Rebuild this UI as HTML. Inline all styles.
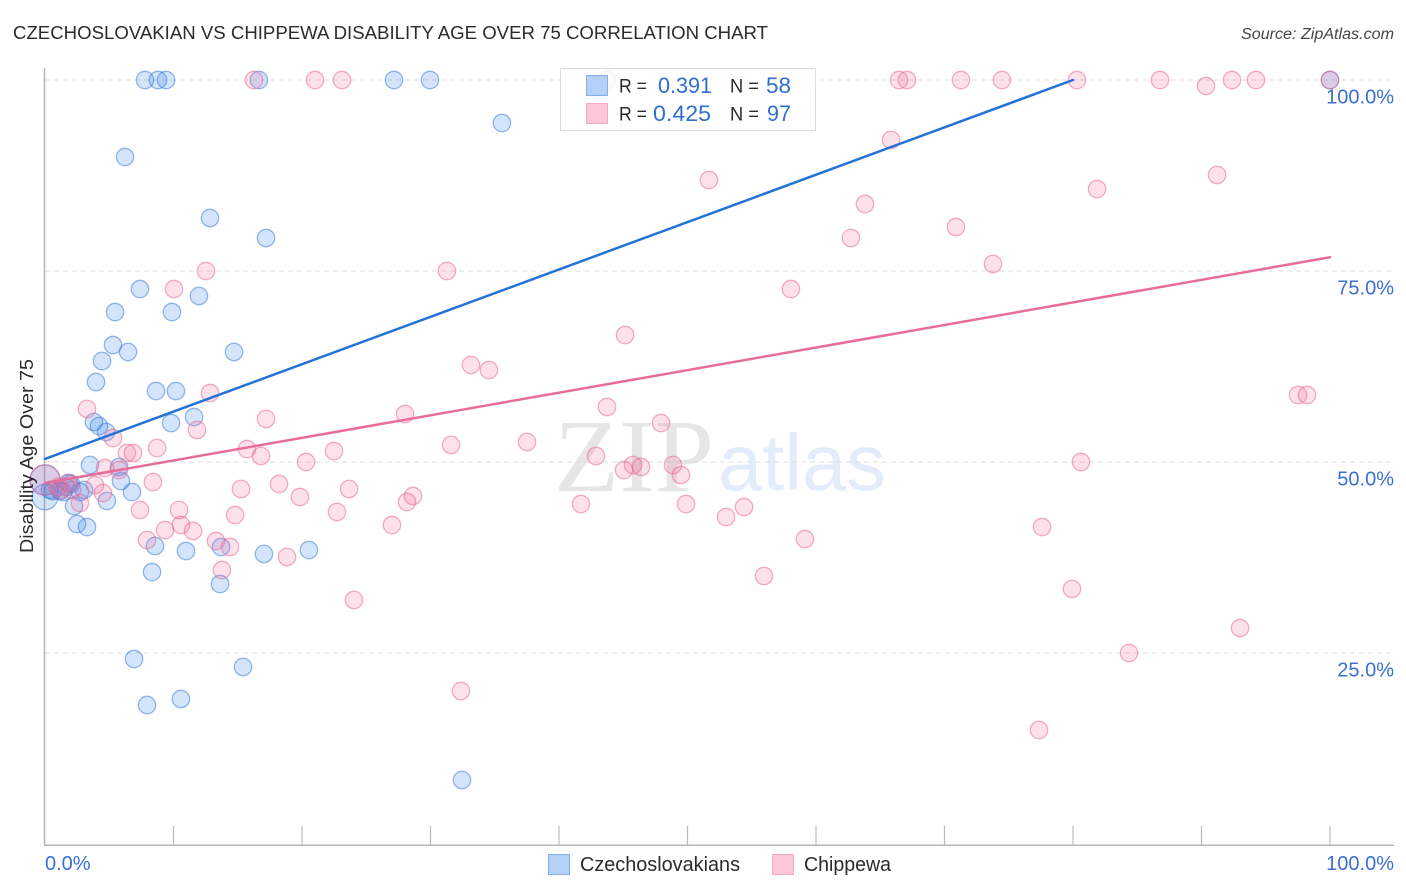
<!DOCTYPE html>
<html lang="en">
<head>
<meta charset="utf-8">
<title>Czechoslovakian vs Chippewa Disability Age Over 75 Correlation Chart</title>
<style>
html,body{margin:0;padding:0;background:#fff}
#chart{display:block;width:1406px;height:892px;font-family:"Liberation Sans",sans-serif}
</style>
</head>
<body>
<svg id="chart" xmlns="http://www.w3.org/2000/svg" width="1406" height="892" viewBox="0 0 1406 892">
  <text x="13" y="39" font-size="18.5" fill="#2b2b2b" textLength="755" lengthAdjust="spacingAndGlyphs">CZECHOSLOVAKIAN VS CHIPPEWA DISABILITY AGE OVER 75 CORRELATION CHART</text>
  <text x="1241" y="39" font-size="15.5" font-style="italic" fill="#444" textLength="153" lengthAdjust="spacingAndGlyphs">Source: ZipAtlas.com</text>
  <g>
    <text x="554" y="491" font-family="'Liberation Serif',serif" font-size="104" fill="#e6e6e6" textLength="160" lengthAdjust="spacingAndGlyphs">ZIP</text>
    <text x="718" y="490" font-size="80" fill="#e3ecfa" textLength="168" lengthAdjust="spacingAndGlyphs">atlas</text>
  </g>
  <g id="grid"></g>
  <g id="axes"></g>
  <g id="series-czech"></g>
  <g id="series-chippewa"></g>
  <g id="trends"></g>
  <text transform="translate(33,456) rotate(-90)" font-size="18" fill="#2b2b2b" text-anchor="middle" textLength="194" lengthAdjust="spacingAndGlyphs">Disability Age Over 75</text>
  <g>
    <rect x="560.5" y="68.5" width="255" height="62" fill="#fff" fill-opacity="0.88" stroke="#dcdcdc"/>
    <rect x="586.5" y="75.5" width="21" height="20" fill="#b5d0f6" stroke="#80afe9"/>
    <rect x="586.5" y="103.5" width="21" height="20" fill="#fcc6d9" stroke="#f5a9c4"/>
    <g font-size="19.5">
      <text x="619" y="92.5" fill="#2b2b2b" textLength="28" lengthAdjust="spacingAndGlyphs">R =</text>
      <text x="658" y="93" font-size="22" fill="#2f6fd0" textLength="54" lengthAdjust="spacingAndGlyphs">0.391</text>
      <text x="730" y="92.5" fill="#2b2b2b" textLength="29" lengthAdjust="spacingAndGlyphs">N =</text>
      <text x="766" y="93" font-size="22" fill="#2f6fd0" textLength="25" lengthAdjust="spacingAndGlyphs">58</text>
      <text x="619" y="120.5" fill="#2b2b2b" textLength="28" lengthAdjust="spacingAndGlyphs">R =</text>
      <text x="653" y="121" font-size="22" fill="#2f6fd0" textLength="58" lengthAdjust="spacingAndGlyphs">0.425</text>
      <text x="730" y="120.5" fill="#2b2b2b" textLength="29" lengthAdjust="spacingAndGlyphs">N =</text>
      <text x="767" y="121" font-size="22" fill="#2f6fd0" textLength="24" lengthAdjust="spacingAndGlyphs">97</text>
    </g>
  </g>
  <g>
    <g>
      <rect x="548.5" y="854.5" width="21" height="20" fill="#b5d0f6" stroke="#80afe9"/>
      <text x="580" y="871" font-size="20" fill="#2b2b2b" textLength="160" lengthAdjust="spacingAndGlyphs">Czechoslovakians</text>
    </g>
    <g>
      <rect x="772.5" y="854.5" width="21" height="20" fill="#fcc6d9" stroke="#f5a9c4"/>
      <text x="804" y="871" font-size="20" fill="#2b2b2b" textLength="87" lengthAdjust="spacingAndGlyphs">Chippewa</text>
    </g>
  </g>
</svg>
<script>
const yGridValues = [100, 75, 50, 25];
const yTickLabels = ["100.0%", "75.0%", "50.0%", "25.0%"];
const xTickValues = [0, 10, 20, 30, 40, 50, 60, 70, 80, 90, 100];
const xEndLabels = ["0.0%", "100.0%"];

const czechX = [0,0.39,0,1.40,1.87,2.02,2.72,3.04,0.62,1.17,1.63,
  7.78,8.79,9.42,16.65,27.16,29.96,43.74,100,35.56,6.23,12.84,17.20,7.39,11.98,5.45,9.88,5.29,6.46,14.71,4.44,3.97,8.64,10.19,3.81,11.60,9.81,4.20,4.75,3.50,5.76,5.91,6.77,4.82,2.26,2.49,3.27,8.56,10.97,13.70,17.04,20.54,8.33,13.62,6.93,15.41,10.58,7.94,32.45];
const czechY = [45.42,46.34,47.64,46.07,47.25,47.12,46.07,46.34,46.20,46.20,46.73,
  100,100,100,100,100,100,100,100,94.37,89.92,81.94,79.32,72.64,71.73,69.63,69.63,65.31,64.40,64.40,63.22,60.47,59.29,59.29,55.24,55.89,55.10,54.71,53.93,49.61,49.35,47.51,46.07,44.90,44.24,41.88,41.49,39.01,38.35,38.87,37.96,38.48,35.60,34.03,24.21,23.17,18.98,18.19,8.38];
const czechWeights = [2.2, 1, 3];

const chippewaX = [0,1.79,1.17,2.10,1.01,
  16.26,21.01,23.11,66.46,67.08,71.28,74.47,80.31,86.77,92.37,94.24,100,90.35,65.84,51.67,91.21,81.87,63.81,62.72,70.89,12.53,31.28,73.77,10.04,58.05,45.14,33.15,34.55,12.84,97.51,98.21,3.27,28.02,17.20,43.74,47.94,11.83,5.29,37.51,31.60,8.72,15.72,22.49,6.38,6.85,16.81,20.31,80.62,4.67,5.76,42.88,45.76,46.38,45.06,48.87,49.49,8.40,3.89,18.21,15.25,23.66,19.84,28.64,28.17,41.71,49.88,54.40,53.00,22.72,14.79,10.43,7.39,2.72,4.51,27.00,10.58,11.52,9.34,77.59,7.94,13.31,14.40,59.14,18.83,13.77,55.95,79.92,24.05,93.00,84.36,32.37,77.35];
const chippewaY = [47.64,47.25,46.34,46.34,46.73,
  100,100,100,100,100,100,100,100,100,100,100,100,99.21,92.15,86.91,87.57,85.73,83.77,79.32,80.76,75.00,75.00,75.92,72.64,72.64,66.62,62.70,62.04,59.03,58.77,58.77,56.94,56.28,55.63,57.20,55.10,54.19,53.14,52.62,52.23,51.83,51.70,51.44,51.18,51.18,50.79,50.00,50.00,49.21,48.95,50.79,49.61,49.35,48.95,49.61,48.30,47.38,46.99,47.12,46.47,46.47,45.42,45.55,44.76,44.50,44.50,44.11,42.80,43.46,43.06,43.72,43.72,44.63,45.94,41.75,41.75,40.97,41.10,41.49,39.79,39.66,38.87,39.92,37.57,35.86,35.08,33.38,31.94,28.27,25.00,20.03,14.92];
const chippewaWeights = [3];

const czechTrendX = [0, 80];
const czechTrendY = [50.4, 100];
const chippewaTrendX = [0, 100];
const chippewaTrendY = [47.25, 76.8];

const NS = "http://www.w3.org/2000/svg";
function xScale(v) { return 45 + v * 12.85; }
function yScale(v) { return 844 - v * 7.64; }
function make(tag, attrs, parent) {
  const el = document.createElementNS(NS, tag);
  for (const k in attrs) el.setAttribute(k, attrs[k]);
  parent.appendChild(el);
  return el;
}

const gridG = document.getElementById("grid");
const axesG = document.getElementById("axes");

yGridValues.forEach(function (v, i) {
  const line = make("line", {x1: 45, x2: 1394, y1: yScale(v), y2: yScale(v), stroke: "#dcdcdc", "stroke-width": 1, "stroke-dasharray": "5 4"}, gridG);
  
  
  const label = make("text", {x: 1394, y: yScale(v) + 23.5, "font-size": 20, fill: "#3b6fd4", "text-anchor": "end"}, axesG);
  
  
  label.textContent = yTickLabels[i];
});

const yAxis = make("line", {x1: 44.5, x2: 44.5, y1: 68, y2: 845.5, stroke: "#b4b4b4", "stroke-width": 1.5}, axesG);


const xAxis = make("line", {x1: 44, x2: 1394, y1: 845.3, y2: 845.3, stroke: "#b4b4b4", "stroke-width": 1.5}, axesG);



xTickValues.forEach(function (v) {
  if (v === 0) return;
  const tick = make("line", {x1: xScale(v), x2: xScale(v), y1: 826, y2: 845, stroke: "#bcbcbc", "stroke-width": 1.2}, axesG);
  
  
});

const xLabel0 = make("text", {x: xScale(0), y: 870, "font-size": 20, fill: "#3b6fd4"}, axesG);


xLabel0.textContent = xEndLabels[0];
const xLabel1 = make("text", {x: 1394, y: 870, "font-size": 20, fill: "#3b6fd4", "text-anchor": "end"}, axesG);


xLabel1.textContent = xEndLabels[1];

function drawPoints(parent, xs, ys, weights, fill, stroke, name) {
  xs.forEach(function (xv, i) {
    const w = weights[i] || 1;
    const c = make("circle", {
      cx: xScale(xv), cy: yScale(ys[i]), r: 8.7 * Math.sqrt(w),
      fill: fill, "fill-opacity": 0.22, stroke: stroke, "stroke-opacity": 0.5, "stroke-width": 1.3
    }, parent);
    
    
  });
}
drawPoints(document.getElementById("series-czech"), czechX, czechY, czechWeights, "#3b86e6", "#2f75d6", "czechoslovakians-point");
drawPoints(document.getElementById("series-chippewa"), chippewaX, chippewaY, chippewaWeights, "#f0709f", "#e8608f", "chippewa-point");

const trendsG = document.getElementById("trends");
const czechLine = make("line", {x1: xScale(czechTrendX[0]), y1: yScale(czechTrendY[0]), x2: xScale(czechTrendX[1]), y2: yScale(czechTrendY[1]), stroke: "#2272d8", "stroke-width": 2.5, "stroke-linecap": "round"}, trendsG);


const chippewaLine = make("line", {x1: xScale(chippewaTrendX[0]), y1: yScale(chippewaTrendY[0]), x2: xScale(chippewaTrendX[1]), y2: yScale(chippewaTrendY[1]), stroke: "#e86c9b", "stroke-width": 2.5, "stroke-linecap": "round"}, trendsG);


</script>
</body>
</html>
